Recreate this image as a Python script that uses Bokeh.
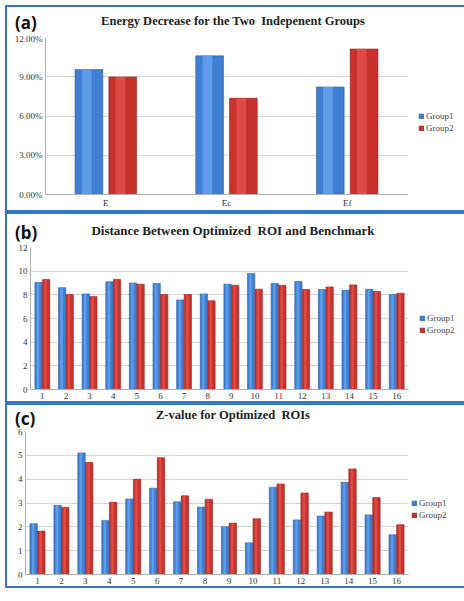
from bokeh.plotting import figure
from bokeh.models import (ColumnDataSource, FixedTicker, PrintfTickFormatter, Legend,
                          LegendItem, Range1d, FactorRange, Div)
from bokeh.layouts import column, row
from bokeh.transform import dodge
from bokeh.embed import file_html
from bokeh.resources import INLINE

# ---- data ----
cats_a = ["E", "Ec", "Ef"]
a_group1 = [9.55, 10.60, 8.22]
a_group2 = [8.98, 7.36, 11.12]
a_ticks = [0, 3, 6, 9, 12]

cats_bc = [str(i) for i in range(1, 17)]
b_group1 = [9.05, 8.60, 8.08, 9.10, 9.00, 8.95, 7.57, 8.08, 8.90, 9.80, 8.95, 9.12, 8.45, 8.39, 8.47, 8.02]
b_group2 = [9.30, 8.02, 7.85, 9.30, 8.90, 8.02, 8.02, 7.49, 8.81, 8.48, 8.81, 8.45, 8.67, 8.84, 8.28, 8.14]
b_ticks = [0, 2, 4, 6, 8, 10, 12]

c_group1 = [2.13, 2.90, 5.10, 2.27, 3.17, 3.62, 3.05, 2.83, 2.00, 1.33, 3.66, 2.29, 2.45, 3.87, 2.50, 1.67]
c_group2 = [1.82, 2.82, 4.70, 3.03, 4.00, 4.90, 3.30, 3.16, 2.16, 2.34, 3.80, 3.42, 2.62, 4.43, 3.23, 2.09]
c_ticks = [0, 1, 2, 3, 4, 5, 6]

series_names = ["Group1", "Group2"]

BLUE, BLUE_HI, BLUE_EDGE = "#3f7fd2", "#5d9ce8", "#2b5ea6"
RED, RED_HI, RED_EDGE = "#c8322d", "#de4a44", "#97221e"
SERIF = "Liberation Serif"
TAG_W, TITLE_W = 40, 372


def panel(letter, title, tsize, cats, g1, g2, ticks, head_h, tag_pt, title_pt,
          fw, fh, left, right, top, bottom, off, bw, fmt, leg_dx):
    p = figure(frame_width=fw, frame_height=fh, x_range=FactorRange(*cats),
               y_range=Range1d(ticks[0], ticks[-1]), output_backend="svg",
               toolbar_location=None, min_border_left=left, min_border_right=right,
               min_border_top=top, min_border_bottom=bottom)
    src = ColumnDataSource(dict(x=cats, g1=g1, g2=g2))
    r1 = p.vbar(x=dodge("x", -off, range=p.x_range), top="g1", width=bw, source=src,
                fill_color=BLUE, line_color=BLUE_EDGE, line_width=0.6)
    p.vbar(x=dodge("x", -off - bw * 0.08, range=p.x_range), top="g1", width=bw * 0.35,
           source=src, fill_color=BLUE_HI, line_color=None)
    r2 = p.vbar(x=dodge("x", off, range=p.x_range), top="g2", width=bw, source=src,
                fill_color=RED, line_color=RED_EDGE, line_width=0.6)
    p.vbar(x=dodge("x", off - bw * 0.08, range=p.x_range), top="g2", width=bw * 0.35,
           source=src, fill_color=RED_HI, line_color=None)

    p.xgrid.grid_line_color = None
    p.ygrid.grid_line_color = "#d4d4d4"
    p.yaxis.ticker = FixedTicker(ticks=ticks)
    p.yaxis.formatter = PrintfTickFormatter(format=fmt)
    for ax in (p.xaxis[0], p.yaxis[0]):
        ax.major_label_text_font = SERIF
        ax.major_label_text_font_size = "9px"
        ax.major_label_text_color = "#333333"
        ax.axis_line_color = "#b0b0b0"
        ax.major_tick_line_color = None
        ax.minor_tick_line_color = None
        ax.major_tick_out = 0
        ax.major_tick_in = 0
        ax.major_label_standoff = 3
    p.outline_line_color = None

    legend = Legend(items=[LegendItem(label=series_names[0], renderers=[r1]),
                           LegendItem(label=series_names[1], renderers=[r2])],
                    location=(leg_dx, fh // 2 - 17), label_text_font=SERIF,
                    label_text_font_size="9px", glyph_width=6, glyph_height=6,
                    label_standoff=2, spacing=1, padding=0, margin=0,
                    border_line_color=None, label_height=11, background_fill_alpha=0)
    p.add_layout(legend, "right")

    tag = Div(text=(f'<div style="padding-top:{tag_pt}px;padding-left:8px;'
                    f'font-family:\'Noto Sans\';font-weight:bold;font-size:17px;'
                    f'line-height:20px;color:#111;white-space:nowrap">{letter}</div>'),
              width=TAG_W, height=head_h, margin=0)
    ttl = Div(text=(f'<div style="display:block;width:{TITLE_W}px;'
                    f'padding-top:{title_pt}px;text-align:center;'
                    f'font-family:\'{SERIF}\';font-weight:bold;font-size:{tsize};'
                    f'line-height:15px;color:#222;white-space:nowrap">{title}</div>'),
              width=TITLE_W, height=head_h, margin=0)
    head = row(tag, ttl, spacing=0, margin=0)
    return column(head, p, spacing=0, margin=0, styles={"border": "2px solid #3477c6"})


pa = panel("(a)", "Energy Decrease for the Two&nbsp; Indepenent Groups", "12.5px", cats_a,
           a_group1, a_group2, a_ticks, 26, 6, 7, 362, 157, 38, 51, 4, 0, 0.14, 0.23,
           "%.2f%%", 11)
pb = panel("(b)", "Distance Between Optimized&nbsp; ROI and Benchmark", "13px", cats_bc,
           b_group1, b_group2, b_ticks, 27, 9, 9, 378, 142, 23, 50, 6, 3, 0.16, 0.31,
           "%d", 11)
pc = panel("(c)", "Z-value for Optimized&nbsp; ROIs", "12.5px", cats_bc, c_group1, c_group2,
           c_ticks, 22, 4, 3, 383, 143, 18, 50, 4, 5, 0.16, 0.31, "%d", 3)

layout = column(pa, pb, pc, spacing=0, margin=(5, 0, 0, 5))
open("out.html", "w").write(file_html(layout, INLINE))
